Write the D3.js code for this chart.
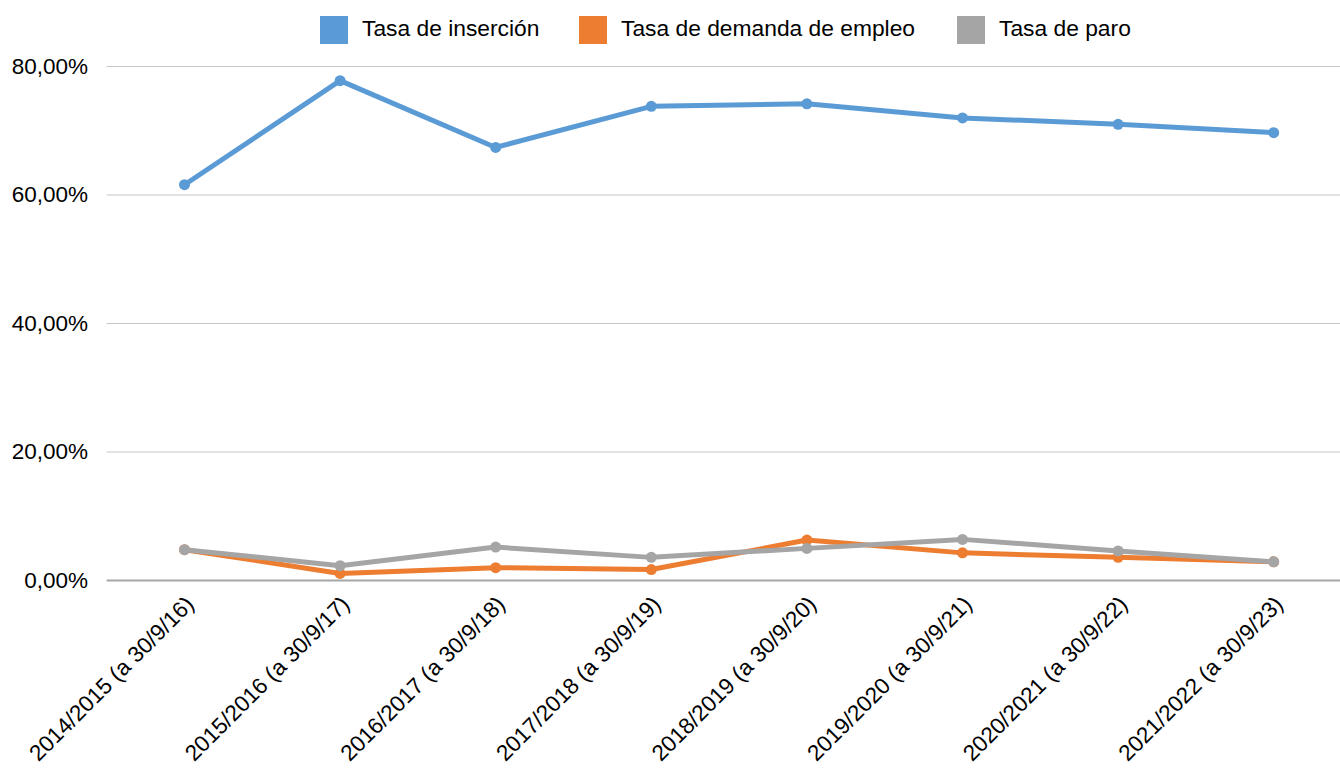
<!DOCTYPE html>
<html><head><meta charset="utf-8">
<script src="https://cdn.jsdelivr.net/npm/d3@7"></script>
<style>
html,body{margin:0;padding:0;background:#fff;}
svg{display:block;font-family:"Liberation Sans",Arial,sans-serif;}
</style></head>
<body><svg id="c" width="1340" height="769"></svg>
<script>
const categories = ["2014/2015 (a 30/9/16)","2015/2016 (a 30/9/17)","2016/2017 (a 30/9/18)","2017/2018 (a 30/9/19)","2018/2019 (a 30/9/20)","2019/2020 (a 30/9/21)","2020/2021 (a 30/9/22)","2021/2022 (a 30/9/23)"];
const seriesNames = ["Tasa de inserción","Tasa de demanda de empleo","Tasa de paro"];
const insercion = [61.6, 77.8, 67.4, 73.8, 74.2, 72.0, 71.0, 69.7];
const demanda   = [4.8, 1.1, 2.0, 1.7, 6.3, 4.3, 3.6, 2.9];
const paro      = [4.8, 2.3, 5.2, 3.6, 5.0, 6.4, 4.6, 2.9];
const yTicks = [0, 20, 40, 60, 80];
const colors = ["#5b9bd5","#ed7d31","#a5a5a5"];

const svg = d3.select("#c");
const x = d3.scalePoint().domain(categories).range([106.7, 1351.5]).padding(0.5);
const y = d3.scaleLinear().domain([0, 80]).range([580.5, 66.5]);
const fmt = v => d3.format(".2f")(v).replace(".", ",") + "%";

// gridlines
svg.append("g").selectAll("line").data(yTicks.filter(d=>d>0)).join("line")
  .attr("x1",106.7).attr("x2",1352).attr("y1",d=>y(d)).attr("y2",d=>y(d))
  .attr("stroke","#c6c6c6").attr("stroke-width",1);
// baseline
svg.append("line").attr("x1",106.7).attr("x2",1352).attr("y1",y(0)).attr("y2",y(0))
  .attr("stroke","#a6a6a6").attr("stroke-width",2);

// y axis labels
const yAxis = d3.axisLeft(y).tickValues(yTicks).tickFormat(fmt).tickSize(0).tickPadding(0);
const ga = svg.append("g").attr("transform","translate(88,0)").call(yAxis);
ga.select(".domain").remove();
ga.selectAll("text").attr("font-size","22.5px").attr("fill","#000").attr("font-family","Liberation Sans, Arial, sans-serif").attr("dy","0.3em");

// x axis labels
const xAxis = d3.axisBottom(x).tickSize(0).tickPadding(0);
const gx = svg.append("g").attr("transform","translate(0,580.5)").call(xAxis);
gx.select(".domain").remove();
gx.selectAll("text").attr("font-size","22.5px").attr("fill","#000").attr("font-family","Liberation Sans, Arial, sans-serif")
  .attr("text-anchor","end").attr("dy",null).attr("y",null)
  .attr("transform","translate(6,21) rotate(-45)").attr("dominant-baseline","middle");

// lines
const data = [insercion, demanda, paro];
const line = d3.line().x((d,i)=>x(categories[i])).y(d=>y(d));
data.forEach((s,k)=>{
  const g = svg.append("g");
  g.append("path").attr("d",line(s)).attr("fill","none").attr("stroke",colors[k])
    .attr("stroke-width",5).attr("stroke-linejoin","round");
  g.selectAll("circle").data(s).join("circle")
    .attr("cx",(d,i)=>x(categories[i])).attr("cy",d=>y(d)).attr("r",5.5).attr("fill",colors[k]);
});

// legend
const legX = [320, 579, 957];
const lg = svg.append("g");
seriesNames.forEach((n,k)=>{
  lg.append("rect").attr("x",legX[k]).attr("y",16).attr("width",28).attr("height",28).attr("fill",colors[k]);
  lg.append("text").attr("x",legX[k]+42).attr("y",28.5).attr("dy","0.35em").attr("font-size","22.8px").attr("fill","#000").text(n);
});
</script></body></html>
